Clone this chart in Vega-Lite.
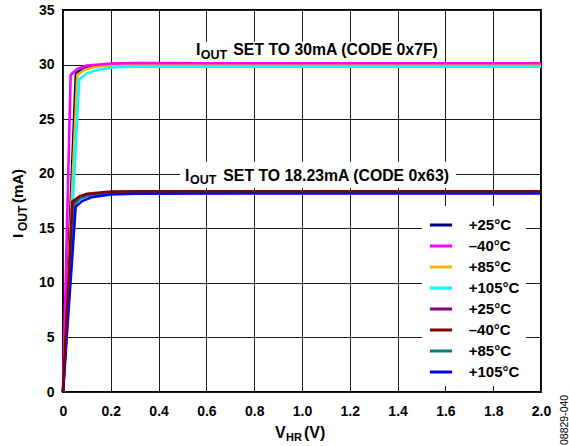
{
  "$schema": "https://vega.github.io/schema/vega-lite/v6.json",
  "width": 478,
  "height": 382,
  "autosize": {"type": "none"},
  "padding": {"left": 63, "top": 10, "right": 28, "bottom": 54},
  "background": "white",
  "data": {"values": [{}]},
  "config": {
    "view": {"stroke": "black", "strokeWidth": 2},
    "axis": {
      "grid": true,
      "gridColor": "#1a1a1a",
      "gridOpacity": 1,
      "domain": false,
      "ticks": false,
      "labelFont": "Liberation Sans",
      "labelFontWeight": "bold",
      "labelFontSize": 14,
      "labelColor": "black"
    },
    "legend": {
      "labelFont": "Liberation Sans",
      "labelFontWeight": "bold",
      "labelFontSize": 15,
      "labelColor": "black"
    }
  },
  "layer": [
    {
      "data": {
        "values": [
          {"series": "+25°C", "v": 0, "i": 0},
          {"series": "+25°C", "v": 0.054, "i": 29.2},
          {"series": "+25°C", "v": 0.08, "i": 29.6},
          {"series": "+25°C", "v": 0.12, "i": 29.85},
          {"series": "+25°C", "v": 0.2, "i": 29.98},
          {"series": "+25°C", "v": 0.3, "i": 30.02},
          {"series": "+25°C", "v": 2.0, "i": 30.0},
          {"series": "+85°C", "v": 0, "i": 0},
          {"series": "+85°C", "v": 0.06, "i": 29.05},
          {"series": "+85°C", "v": 0.09, "i": 29.5},
          {"series": "+85°C", "v": 0.13, "i": 29.78},
          {"series": "+85°C", "v": 0.2, "i": 29.92},
          {"series": "+85°C", "v": 0.3, "i": 29.96},
          {"series": "+85°C", "v": 2.0, "i": 29.95},
          {"series": "+105°C", "v": 0, "i": 0},
          {"series": "+105°C", "v": 0.068, "i": 28.65},
          {"series": "+105°C", "v": 0.1, "i": 29.2},
          {"series": "+105°C", "v": 0.15, "i": 29.55},
          {"series": "+105°C", "v": 0.22, "i": 29.75},
          {"series": "+105°C", "v": 0.3, "i": 29.8},
          {"series": "+105°C", "v": 2.0, "i": 29.8},
          {"series": "–40°C", "v": 0, "i": 0},
          {"series": "–40°C", "v": 0.032, "i": 29.05},
          {"series": "–40°C", "v": 0.06, "i": 29.6},
          {"series": "–40°C", "v": 0.1, "i": 29.92},
          {"series": "–40°C", "v": 0.2, "i": 30.1},
          {"series": "–40°C", "v": 0.3, "i": 30.13},
          {"series": "–40°C", "v": 2.0, "i": 30.12},
          {"series": "+25°C\u200b", "v": 0, "i": 0},
          {"series": "+25°C\u200b", "v": 0.045, "i": 17.3},
          {"series": "+25°C\u200b", "v": 0.07, "i": 17.8},
          {"series": "+25°C\u200b", "v": 0.1, "i": 18.05},
          {"series": "+25°C\u200b", "v": 0.2, "i": 18.28},
          {"series": "+25°C\u200b", "v": 0.3, "i": 18.33},
          {"series": "+25°C\u200b", "v": 2.0, "i": 18.33},
          {"series": "+85°C\u200b", "v": 0, "i": 0},
          {"series": "+85°C\u200b", "v": 0.048, "i": 17.2},
          {"series": "+85°C\u200b", "v": 0.07, "i": 17.7},
          {"series": "+85°C\u200b", "v": 0.1, "i": 17.95},
          {"series": "+85°C\u200b", "v": 0.2, "i": 18.2},
          {"series": "+85°C\u200b", "v": 0.3, "i": 18.27},
          {"series": "+85°C\u200b", "v": 2.0, "i": 18.27},
          {"series": "+105°C\u200b", "v": 0, "i": 0},
          {"series": "+105°C\u200b", "v": 0.053, "i": 16.98},
          {"series": "+105°C\u200b", "v": 0.08, "i": 17.5},
          {"series": "+105°C\u200b", "v": 0.12, "i": 17.85},
          {"series": "+105°C\u200b", "v": 0.2, "i": 18.1},
          {"series": "+105°C\u200b", "v": 0.3, "i": 18.18},
          {"series": "+105°C\u200b", "v": 2.0, "i": 18.19},
          {"series": "–40°C\u200b", "v": 0, "i": 0},
          {"series": "–40°C\u200b", "v": 0.039, "i": 17.44},
          {"series": "–40°C\u200b", "v": 0.07, "i": 17.95},
          {"series": "–40°C\u200b", "v": 0.1, "i": 18.15},
          {"series": "–40°C\u200b", "v": 0.2, "i": 18.36},
          {"series": "–40°C\u200b", "v": 0.3, "i": 18.4},
          {"series": "–40°C\u200b", "v": 2.0, "i": 18.39}
        ]
      },
      "mark": {"type": "line", "strokeWidth": 2.6},
      "encoding": {
        "x": {
          "field": "v",
          "type": "quantitative",
          "title": null,
          "scale": {"domain": [0, 2], "nice": false},
          "axis": {
            "grid": true,
            "values": [0, 0.2, 0.4, 0.6, 0.8, 1.0, 1.2, 1.4, 1.6, 1.8, 2.0],
            "format": ".1f",
            "labelExpr": "datum.value == 0 ? '0' : datum.label",
            "labelFlush": false,
            "labelPadding": 12
          }
        },
        "y": {
          "field": "i",
          "type": "quantitative",
          "title": null,
          "scale": {"domain": [0, 35], "nice": false},
          "axis": {"grid": true, "values": [0, 5, 10, 15, 20, 25, 30, 35], "labelFlush": false, "labelPadding": 9}
        },
        "color": {
          "field": "series",
          "type": "nominal",
          "scale": {
            "domain": ["+25°C", "–40°C", "+85°C", "+105°C", "+25°C\u200b", "–40°C\u200b", "+85°C\u200b", "+105°C\u200b"],
            "range": ["#00007f", "#ff00ff", "#ffb000", "#00ffff", "#800080", "#800000", "#008080", "#0000ff"]
          },
          "legend": {
            "title": null,
            "orient": "none",
            "legendX": 359,
            "legendY": 196,
            "fillColor": "white",
            "padding": 6,
            "symbolType": "stroke",
            "symbolSize": 495,
            "symbolStrokeWidth": 3,
            "labelOffset": 14.7,
            "rowPadding": 0
          }
        }
      }
    },
    {
      "mark": {"type": "rect", "fill": "white"},
      "encoding": {
        "x": {"datum": 0.544, "type": "quantitative"},
        "x2": {"datum": 1.59},
        "y": {"datum": 32.1, "type": "quantitative"},
        "y2": {"datum": 30.24}
      }
    },
    {
      "mark": {"type": "rect", "fill": "white"},
      "encoding": {
        "x": {"datum": 0.49, "type": "quantitative"},
        "x2": {"datum": 1.645},
        "y": {"datum": 21.1, "type": "quantitative"},
        "y2": {"datum": 18.69}
      }
    },
    {
      "mark": {"type": "text", "font": "Liberation Sans", "fontWeight": "bold", "align": "left", "fontSize": 16, "dy": -4.8},
      "encoding": {
        "x": {"datum": 0.5565, "type": "quantitative"},
        "y": {"datum": 30.88, "type": "quantitative"},
        "text": {"value": "I"}
      }
    },
    {
      "mark": {"type": "text", "font": "Liberation Sans", "fontWeight": "bold", "align": "left", "fontSize": 12.5, "dx": 4.7, "dy": -0.35},
      "encoding": {
        "x": {"datum": 0.5565, "type": "quantitative"},
        "y": {"datum": 30.88, "type": "quantitative"},
        "text": {"value": "OUT"}
      }
    },
    {
      "mark": {"type": "text", "font": "Liberation Sans", "fontWeight": "bold", "align": "left", "fontSize": 15.8, "dx": 37.3, "dy": -4.74},
      "encoding": {
        "x": {"datum": 0.5565, "type": "quantitative"},
        "y": {"datum": 30.88, "type": "quantitative"},
        "text": {"value": "SET TO 30mA (CODE 0x7F)"}
      }
    },
    {
      "mark": {"type": "text", "font": "Liberation Sans", "fontWeight": "bold", "align": "left", "fontSize": 16, "dy": -4.8},
      "encoding": {
        "x": {"datum": 0.5105, "type": "quantitative"},
        "y": {"datum": 19.36, "type": "quantitative"},
        "text": {"value": "I"}
      }
    },
    {
      "mark": {"type": "text", "font": "Liberation Sans", "fontWeight": "bold", "align": "left", "fontSize": 12.5, "dx": 5, "dy": -0.35},
      "encoding": {
        "x": {"datum": 0.5105, "type": "quantitative"},
        "y": {"datum": 19.36, "type": "quantitative"},
        "text": {"value": "OUT"}
      }
    },
    {
      "mark": {"type": "text", "font": "Liberation Sans", "fontWeight": "bold", "align": "left", "fontSize": 15.8, "dx": 38.3, "dy": -4.74},
      "encoding": {
        "x": {"datum": 0.5105, "type": "quantitative"},
        "y": {"datum": 19.36, "type": "quantitative"},
        "text": {"value": "SET TO 18.23mA (CODE 0x63)"}
      }
    },
    {
      "mark": {"type": "text", "font": "Liberation Sans", "fontWeight": "bold", "align": "left", "fontSize": 16, "dy": 41.2},
      "encoding": {
        "x": {"datum": 0.887, "type": "quantitative"},
        "y": {"datum": 0, "type": "quantitative"},
        "text": {"value": "V"}
      }
    },
    {
      "mark": {"type": "text", "font": "Liberation Sans", "fontWeight": "bold", "align": "left", "fontSize": 11, "dx": 11, "dy": 45.7},
      "encoding": {
        "x": {"datum": 0.887, "type": "quantitative"},
        "y": {"datum": 0, "type": "quantitative"},
        "text": {"value": "HR"}
      }
    },
    {
      "mark": {"type": "text", "font": "Liberation Sans", "fontWeight": "bold", "align": "left", "fontSize": 16, "dx": 29, "dy": 41.2},
      "encoding": {
        "x": {"datum": 0.887, "type": "quantitative"},
        "y": {"datum": 0, "type": "quantitative"},
        "text": {"value": "(V)"}
      }
    },
    {
      "mark": {"type": "text", "font": "Liberation Sans", "fontWeight": "bold", "align": "left", "fontSize": 15, "angle": 270, "dy": -44.8},
      "encoding": {
        "x": {"datum": 0, "type": "quantitative"},
        "y": {"datum": 14.1, "type": "quantitative"},
        "text": {"value": "I"}
      }
    },
    {
      "mark": {"type": "text", "font": "Liberation Sans", "fontWeight": "bold", "align": "left", "fontSize": 12, "angle": 270, "dx": 7, "dy": -39.6},
      "encoding": {
        "x": {"datum": 0, "type": "quantitative"},
        "y": {"datum": 14.1, "type": "quantitative"},
        "text": {"value": "OUT"}
      }
    },
    {
      "mark": {"type": "text", "font": "Liberation Sans", "fontWeight": "bold", "align": "left", "fontSize": 15, "angle": 270, "dx": 35, "dy": -44.8},
      "encoding": {
        "x": {"datum": 0, "type": "quantitative"},
        "y": {"datum": 14.1, "type": "quantitative"},
        "text": {"value": "(mA)"}
      }
    },
    {
      "mark": {"type": "text", "font": "Liberation Sans", "align": "left", "fontSize": 10.5, "angle": 270, "dx": -53, "dy": 23.85},
      "encoding": {
        "x": {"datum": 2, "type": "quantitative"},
        "y": {"datum": 0, "type": "quantitative"},
        "text": {"value": "08829-040"}
      }
    }
  ]
}
